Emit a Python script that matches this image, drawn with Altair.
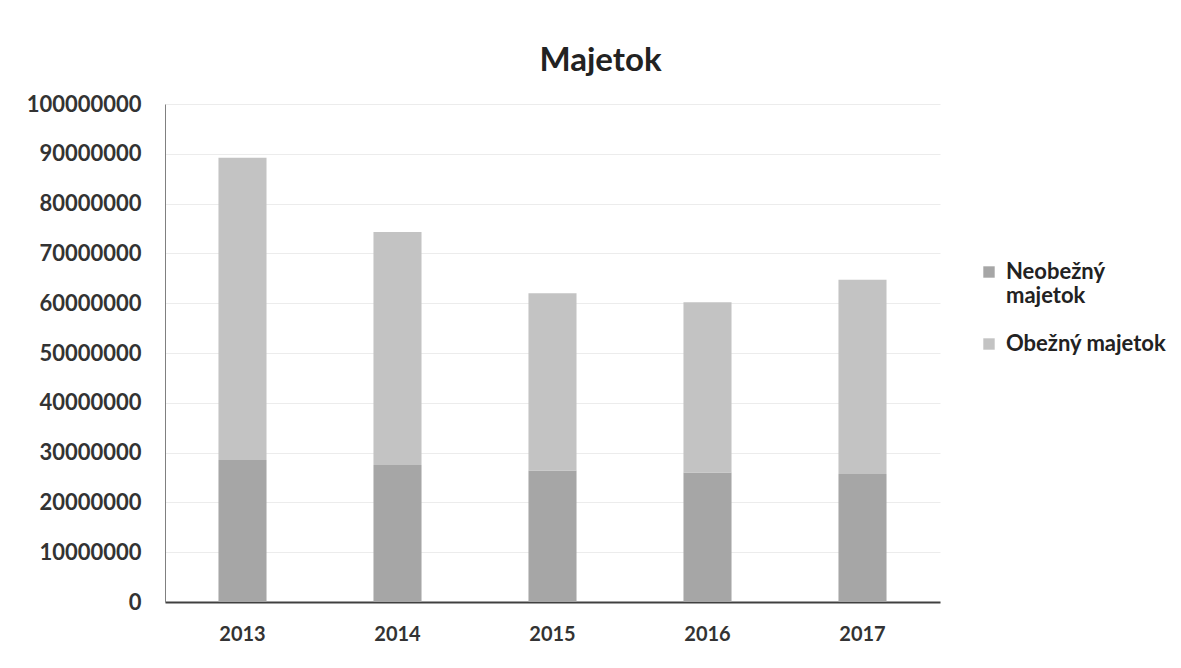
import altair as alt
import pandas as pd

years = ["2013", "2014", "2015", "2016", "2017"]
neobezny = [28500000, 27500000, 26400000, 26000000, 25700000]
obezny = [60700000, 46800000, 35600000, 34200000, 39000000]
series = ["Neobežný majetok", "Obežný majetok"]
colors = ["#a6a6a6", "#c3c3c3"]

rows = []
for i, y in enumerate(years):
    rows.append({"rok": y, "typ": series[0], "hodnota": neobezny[i], "poradie": 0})
    rows.append({"rok": y, "typ": series[1], "hodnota": obezny[i], "poradie": 1})
df = pd.DataFrame(rows)

FONT = "Lato"

chart = alt.Chart(df).mark_bar().encode(
    x=alt.X("rok:N", title=None,
            scale=alt.Scale(paddingInner=0.69, paddingOuter=0.345),
            axis=alt.Axis(labelAngle=0, labelFont=FONT, labelFontSize=20, labelFontWeight="bold",
                          labelColor="#333333", labelPadding=22, ticks=False,
                          domainColor="#404040", domainWidth=2, grid=False)),
    y=alt.Y("hodnota:Q", title=None, stack="zero",
            scale=alt.Scale(domain=[0, 100000000], nice=False),
            axis=alt.Axis(values=list(range(0, 100000001, 10000000)), format="d",
                          labelFont=FONT, labelFontSize=22, labelFontWeight="bold",
                          labelColor="#333333", labelPadding=24, ticks=False,
                          domainColor="#808080", domainWidth=1,
                          gridColor="#ececec", gridWidth=1)),
    color=alt.Color("typ:N", sort=series,
                    scale=alt.Scale(domain=series, range=colors),
                    legend=alt.Legend(title=None, orient="none", legendX=813, legendY=157,
                                      symbolType="square", symbolSize=130, symbolStrokeWidth=0,
                                      labelFont=FONT, labelFontSize=22, labelFontWeight="bold",
                                      labelColor="#222222", rowPadding=26, labelOffset=6,
                                      labelLimit=300,
                                      labelExpr="datum.label == 'Neobežný majetok' ? ['Neobežný', 'majetok'] : datum.label")),
    order=alt.Order("poradie:Q", sort="ascending"),
).properties(
    width=775,
    height=498,
    background="white",
    title=alt.TitleParams("Majetok", font=FONT, fontSize=33, fontWeight="bold",
                          color="#222222", offset=15, dx=48),
    padding={"left": 157, "top": 96, "right": 233, "bottom": 58},
    autosize=alt.AutoSizeParams(type="none"),
).configure_view(stroke=None)

chart.save("out.html", embed_options={"renderer": "svg", "actions": False})
